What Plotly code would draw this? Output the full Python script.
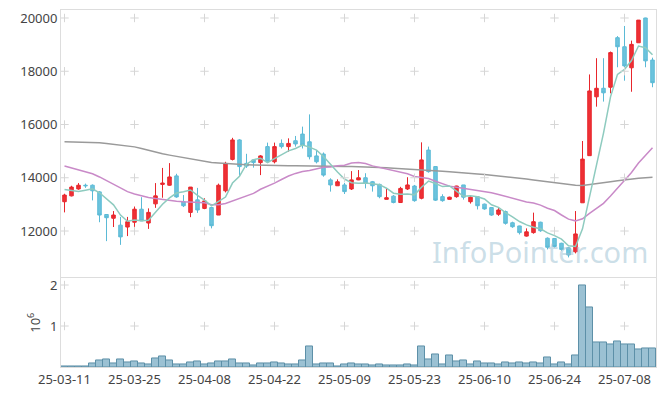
import plotly.graph_objects as go
from plotly.subplots import make_subplots

dates = [
    "25-03-11", "25-03-12", "25-03-13", "25-03-14", "25-03-17", "25-03-18", "25-03-19", "25-03-20", "25-03-21", "25-03-24",
    "25-03-25", "25-03-26", "25-03-27", "25-03-28", "25-03-31", "25-04-01", "25-04-02", "25-04-03", "25-04-04", "25-04-07",
    "25-04-08", "25-04-09", "25-04-10", "25-04-11", "25-04-14", "25-04-15", "25-04-16", "25-04-17", "25-04-18", "25-04-21",
    "25-04-22", "25-04-23", "25-04-24", "25-04-25", "25-04-28", "25-04-29", "25-04-30", "25-05-02", "25-05-07", "25-05-08",
    "25-05-09", "25-05-12", "25-05-13", "25-05-14", "25-05-15", "25-05-16", "25-05-19", "25-05-20", "25-05-21", "25-05-22",
    "25-05-23", "25-05-26", "25-05-27", "25-05-28", "25-05-29", "25-05-30", "25-06-02", "25-06-04", "25-06-05", "25-06-09",
    "25-06-10", "25-06-11", "25-06-12", "25-06-13", "25-06-16", "25-06-17", "25-06-18", "25-06-19", "25-06-20", "25-06-23",
    "25-06-24", "25-06-25", "25-06-26", "25-06-27", "25-06-30", "25-07-01", "25-07-02", "25-07-03", "25-07-04", "25-07-07",
    "25-07-08", "25-07-09", "25-07-10", "25-07-11", "25-07-14",
]

opens = [
    13100, 13320, 13580, 13720, 13720, 13470, 12620, 12480, 12220, 12150,
    12330, 12820, 12300, 13020, 13750, 13720, 14070, 13100, 12700, 13170,
    12850, 12880, 12600, 13510, 14690, 15420, 14540, 14670, 14570, 15170,
    14600, 15290, 15170, 15390, 15640, 15350, 14820, 14890, 13920, 13700,
    13730, 13580, 13920, 14000, 13850, 13750, 13190, 13310, 13070, 13580,
    13690, 13230, 15040, 14420, 13290, 13190, 13290, 13730, 13100, 13290,
    13010, 12880, 12630, 12730, 12310, 12190, 11810, 11940, 12330, 11730,
    11720, 11540, 11370, 11220, 13060, 14830, 17040, 17360, 17400, 19260,
    18920, 18130, 19070, 20000, 18420,
]
highs = [
    13400, 13700, 13800, 13780, 13750, 13500, 12620, 12750, 12530, 12530,
    12920, 13270, 12850, 13800, 14370, 14550, 14150, 13350, 13650, 13620,
    13230, 12900, 13780, 14600, 15500, 15450, 14900, 14700, 14850, 15320,
    15320, 15440, 15480, 15570, 15920, 16380, 15040, 14950, 13980, 13940,
    13810, 14250, 14290, 14170, 13880, 13780, 13600, 13350, 13660, 14020,
    13730, 15330, 15170, 14420, 13380, 13290, 13700, 13730, 13310, 13300,
    13030, 12880, 12860, 12770, 12350, 12200, 12100, 12690, 12350, 11760,
    11730, 11560, 11400, 12750, 15380, 17880, 18490, 18490, 18740, 19320,
    19700, 19150, 19925, 20010, 18510,
]
lows = [
    12700, 13300, 13550, 13620, 13150, 12330, 11620, 12150, 11480, 11810,
    11920, 12380, 12080, 12870, 13250, 13700, 13250, 12900, 12520, 12680,
    12820, 12100, 12600, 13450, 14650, 14050, 14370, 14380, 14100, 14580,
    14540, 15100, 14980, 15170, 15100, 14690, 14540, 14040, 13480, 13700,
    13390, 13540, 13910, 13600, 13480, 13230, 13190, 13040, 13060, 13540,
    13100, 13190, 14190, 13130, 13100, 13180, 13250, 13180, 13030, 12810,
    12800, 12570, 12570, 12240, 12120, 11870, 11790, 11900, 11970, 11310,
    11380, 11260, 11010, 11160, 13060, 14830, 16670, 16860, 17170, 18150,
    17645, 17230, 19070, 18150, 17400,
]
closes = [
    13350, 13650, 13720, 13700, 13510, 12600, 12500, 12600, 11780, 12350,
    12820, 12380, 12700, 13320, 13800, 14030, 13280, 12950, 13650, 12790,
    13130, 12200, 13720, 14540, 15420, 14420, 14440, 14570, 14820, 14600,
    15170, 15170, 15290, 15270, 15230, 14790, 14600, 14100, 13730, 13850,
    13480, 13920, 14000, 13790, 13700, 13290, 13250, 13070, 13600, 13730,
    13140, 14670, 14230, 13160, 13140, 13270, 13690, 13270, 13270, 12950,
    12830, 12600, 12790, 12290, 12160, 11940, 11970, 12350, 12010, 11390,
    11420, 11310, 11100, 11890, 14700, 17260, 17360, 17190, 18700, 18920,
    18200, 19010, 19920, 18390, 17570,
]
volumes_m = [
    0.016, 0.02, 0.02, 0.02, 0.08, 0.16, 0.18, 0.08, 0.18, 0.11,
    0.13, 0.08, 0.06, 0.20, 0.25, 0.16, 0.07, 0.05, 0.11, 0.13,
    0.06, 0.08, 0.13, 0.13, 0.18, 0.08, 0.08, 0.03, 0.08, 0.08,
    0.11, 0.08, 0.06, 0.06, 0.16, 0.50, 0.06, 0.08, 0.08, 0.02,
    0.06, 0.08, 0.06, 0.06, 0.03, 0.06, 0.03, 0.03, 0.03, 0.06,
    0.03, 0.50, 0.18, 0.30, 0.06, 0.28, 0.13, 0.16, 0.06, 0.13,
    0.08, 0.08, 0.06, 0.11, 0.08, 0.11, 0.08, 0.11, 0.08, 0.23,
    0.06, 0.11, 0.06, 0.28, 1.98, 1.45, 0.60, 0.60, 0.55, 0.62,
    0.55, 0.55, 0.42, 0.45, 0.45,
]
ma5 = [
    13560, 13520, 13480, 13530, 13586, 13436, 13206, 12982, 12598, 12366,
    12410, 12386, 12406, 12714, 13004, 13246, 13426, 13476, 13542, 13340,
    13160, 12944, 13098, 13276, 13802, 14060, 14508, 14678, 14734, 14570,
    14720, 14866, 15010, 15100, 15226, 15150, 15036, 14798, 14490, 14214,
    13952, 13816, 13796, 13808, 13778, 13740, 13606, 13420, 13382, 13388,
    13358, 13642, 13874, 13786, 13668, 13694, 13498, 13306, 13328, 13290,
    13202, 12984, 12888, 12692, 12534, 12356, 12230, 12142, 12084, 11930,
    11826, 11694, 11444, 11420, 12082, 13250, 14460, 15678, 17040, 17884,
    18072, 18402, 18948, 18886, 18616,
]
ma20 = [
    14440, 14370, 14300, 14230, 14150, 14030, 13890, 13740, 13600, 13480,
    13390, 13320, 13260, 13220, 13180, 13140, 13120, 13100, 13090, 13074,
    13063, 12991, 12991, 13033, 13128, 13219, 13316, 13415, 13567, 13679,
    13797, 13936, 14066, 14163, 14235, 14273, 14339, 14396, 14400, 14453,
    14471, 14557, 14571, 14533, 14447, 14391, 14331, 14256, 14195, 14152,
    14050, 14025, 13972, 13867, 13762, 13686, 13641, 13599, 13576, 13531,
    13499, 13433, 13372, 13297, 13220, 13153, 13089, 13053, 12973, 12856,
    12770, 12602, 12446, 12382, 12460, 12660, 12843, 13039, 13311, 13609,
    13878, 14198, 14555, 14860, 15130,
]
ma_long = [
    15350, 15345, 15340, 15335, 15325, 15315, 15290, 15260, 15230, 15190,
    15160, 15100, 15030, 14960, 14900, 14850, 14800, 14760, 14720, 14670,
    14620, 14570, 14550, 14530, 14510, 14500, 14490, 14480, 14470, 14465,
    14460, 14455, 14450, 14450, 14450, 14445, 14440, 14440, 14435, 14430,
    14425, 14420, 14415, 14410, 14400, 14390, 14375, 14360, 14340, 14320,
    14300, 14285, 14270, 14260, 14245, 14230, 14215, 14195, 14170, 14145,
    14120, 14095, 14070, 14040, 14010, 13980, 13950, 13915, 13880, 13840,
    13800, 13765, 13735, 13715, 13710, 13740, 13780, 13815, 13850, 13890,
    13930, 13960, 13985, 14005, 14020,
]
x_tick_labels = dates[::10]
price_ticks = [12000, 14000, 16000, 18000, 20000]
volume_ticks = [1, 2]

FONT = "Noto Sans"
TICK_COLOR = "#444444"
AXIS_LINE = "#dddddd"
CROSS = "#d6d6d6"

fig = make_subplots(rows=2, cols=1, shared_xaxes=True, vertical_spacing=0.0)

fig.add_trace(go.Scatter(x=dates, y=ma_long, mode="lines",
                         line=dict(color="#9a9a9a", width=1.5)), row=1, col=1)
fig.add_trace(go.Scatter(x=dates, y=ma20, mode="lines",
                         line=dict(color="#c98ac8", width=1.5)), row=1, col=1)
fig.add_trace(go.Scatter(x=dates, y=ma5, mode="lines",
                         line=dict(color="#8ecbbf", width=1.5)), row=1, col=1)

fig.add_trace(go.Candlestick(
    x=dates, open=opens, high=highs, low=lows, close=closes,
    increasing=dict(line=dict(color="#e8262c", width=1), fillcolor="#ee3035"),
    decreasing=dict(line=dict(color="#5bbad6", width=1), fillcolor="#6cc3dd"),
    whiskerwidth=0,
), row=1, col=1)

fig.add_trace(go.Bar(x=dates, y=volumes_m,
                     marker=dict(color="rgba(130,178,200,0.8)",
                                 line=dict(color="#5d90a8", width=1))), row=2, col=1)

# grid crosses at tick intersections
gx = [d for d in x_tick_labels for _ in price_ticks]
gy = [p for _ in x_tick_labels for p in price_ticks]
fig.add_trace(go.Scatter(x=gx, y=gy, mode="markers", hoverinfo="skip",
                         marker=dict(symbol="cross-thin", size=6,
                                     line=dict(color=CROSS, width=1))), row=1, col=1)
vx = [d for d in x_tick_labels for _ in volume_ticks]
vy = [p for _ in x_tick_labels for p in volume_ticks]
fig.add_trace(go.Scatter(x=vx, y=vy, mode="markers", hoverinfo="skip",
                         marker=dict(symbol="cross-thin", size=6,
                                     line=dict(color=CROSS, width=1))), row=2, col=1)

# page body has an 8px margin: figure sized so the plot lands where the reference has it
fig.update_layout(
    width=649, height=380,
    margin=dict(l=53, r=1, t=2, b=21, autoexpand=False),
    paper_bgcolor="white", plot_bgcolor="white",
    showlegend=False, hovermode=False, bargap=0, boxgap=0.28,
    font=dict(family=FONT, size=13, color=TICK_COLOR),
)

common_x = dict(type="category", categoryorder="array", categoryarray=dates,
                range=[-0.5, 84.5], showgrid=False, automargin=False,
                showline=True, linecolor=AXIS_LINE, mirror=True, ticks="",
                rangeslider=dict(visible=False), zeroline=False)
fig.update_xaxes(**common_x, showticklabels=False, row=1, col=1)
fig.update_xaxes(**common_x, tickmode="array", tickvals=x_tick_labels, ticktext=x_tick_labels,
                 tickangle=0, showticklabels=True, tickfont=dict(size=13, color=TICK_COLOR),
                 row=2, col=1)

fig.update_yaxes(domain=[0.252, 1.0], range=[10272, 20300], tickmode="array",
                 tickvals=price_ticks, ticktext=[str(p) for p in price_ticks],
                 showgrid=False, zeroline=False, showline=True, linecolor=AXIS_LINE,
                 mirror=True, ticks="", automargin=False,
                 tickfont=dict(size=13, color=TICK_COLOR),
                 row=1, col=1)
fig.update_yaxes(domain=[0.0, 0.248], range=[0, 2.16], tickmode="array",
                 tickvals=volume_ticks, ticktext=[str(v) for v in volume_ticks],
                 showgrid=False, zeroline=False, showline=True, linecolor=AXIS_LINE,
                 mirror=True, ticks="", automargin=False,
                 tickfont=dict(size=13, color=TICK_COLOR),
                 title=dict(text="10<sup>6</sup>", font=dict(size=13, color=TICK_COLOR),
                            standoff=6),
                 row=2, col=1)

fig.add_annotation(text="InfoPointer.com", xref="paper", yref="paper",
                   x=0.99, y=0.262, xanchor="right", yanchor="bottom",
                   showarrow=False,
                   font=dict(family=FONT, size=29, color="rgba(160,195,212,0.55)"))

fig.write_html("out.html")
